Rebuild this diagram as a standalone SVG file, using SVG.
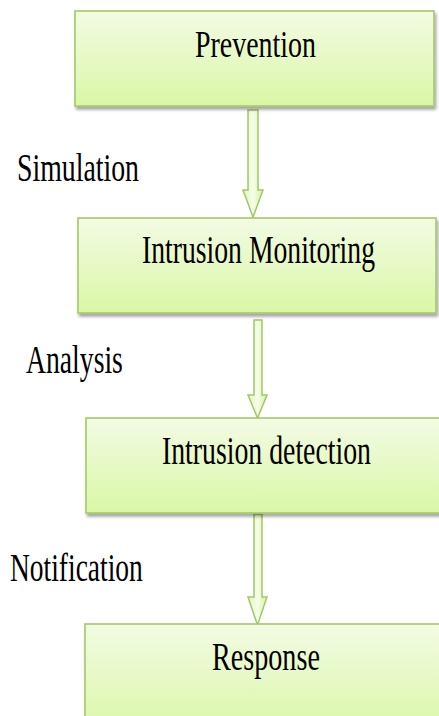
<svg xmlns="http://www.w3.org/2000/svg" width="439" height="716" viewBox="0 0 439 716">
<defs>
<linearGradient id="boxGrad" x1="0" y1="0" x2="0" y2="1">
<stop offset="0" stop-color="#f3fbe4"/>
<stop offset="1" stop-color="#d9f7a6"/>
</linearGradient>
<linearGradient id="arrowGrad" x1="0" y1="0" x2="1" y2="0">
<stop offset="0" stop-color="#e0f7bc"/>
<stop offset="0.5" stop-color="#f6fceb"/>
<stop offset="1" stop-color="#d6f4a2"/>
</linearGradient>
<filter id="shadow" x="-10%" y="-10%" width="130%" height="130%">
<feDropShadow dx="1.5" dy="3" stdDeviation="1.5" flood-color="#000" flood-opacity="0.35"/>
</filter>
</defs>
<style>
.box{fill:url(#boxGrad);stroke:#a5c86c;stroke-width:1.6;filter:url(#shadow)}
.arrow{fill:url(#arrowGrad);stroke:#a2c766;stroke-width:1.5;stroke-linejoin:miter}
text{font-family:"Liberation Serif","Times New Roman",serif;font-size:39px;fill:#000}
</style>
<rect width="439" height="716" fill="#fff"/>
<g id="connectors">
<path class="arrow" d="M248 110 H258 V190 H263 L253 217 L243 190 H248 Z"/>
<path class="arrow" d="M254 320 H262 V395 H267 L257.5 418 L248 395 H254 Z"/>
<path class="arrow" d="M254 514 H262 V597 H267 L257.5 625 L248 597 H254 Z"/>
</g>
<g id="prevention">
<rect class="box" x="75" y="11" width="359" height="95"/>
<text transform="translate(195 57) scale(0.716 1)">Prevention</text>
</g>
<g id="monitoring">
<rect class="box" x="78" y="218" width="358" height="95"/>
<text transform="translate(142 263) scale(0.71 1)">Intrusion Monitoring</text>
</g>
<g id="detection">
<rect class="box" x="86" y="418" width="362" height="95"/>
<text transform="translate(162 464) scale(0.712 1)">Intrusion detection</text>
</g>
<g id="response">
<rect class="box" x="85" y="624" width="362" height="110"/>
<text transform="translate(212 670) scale(0.722 1)">Response</text>
</g>
<g id="labels">
<text transform="translate(17 181) scale(0.713 1)">Simulation</text>
<text transform="translate(26 373) scale(0.71 1)">Analysis</text>
<text transform="translate(10 581) scale(0.705 1)">Notification</text>
</g>
</svg>
